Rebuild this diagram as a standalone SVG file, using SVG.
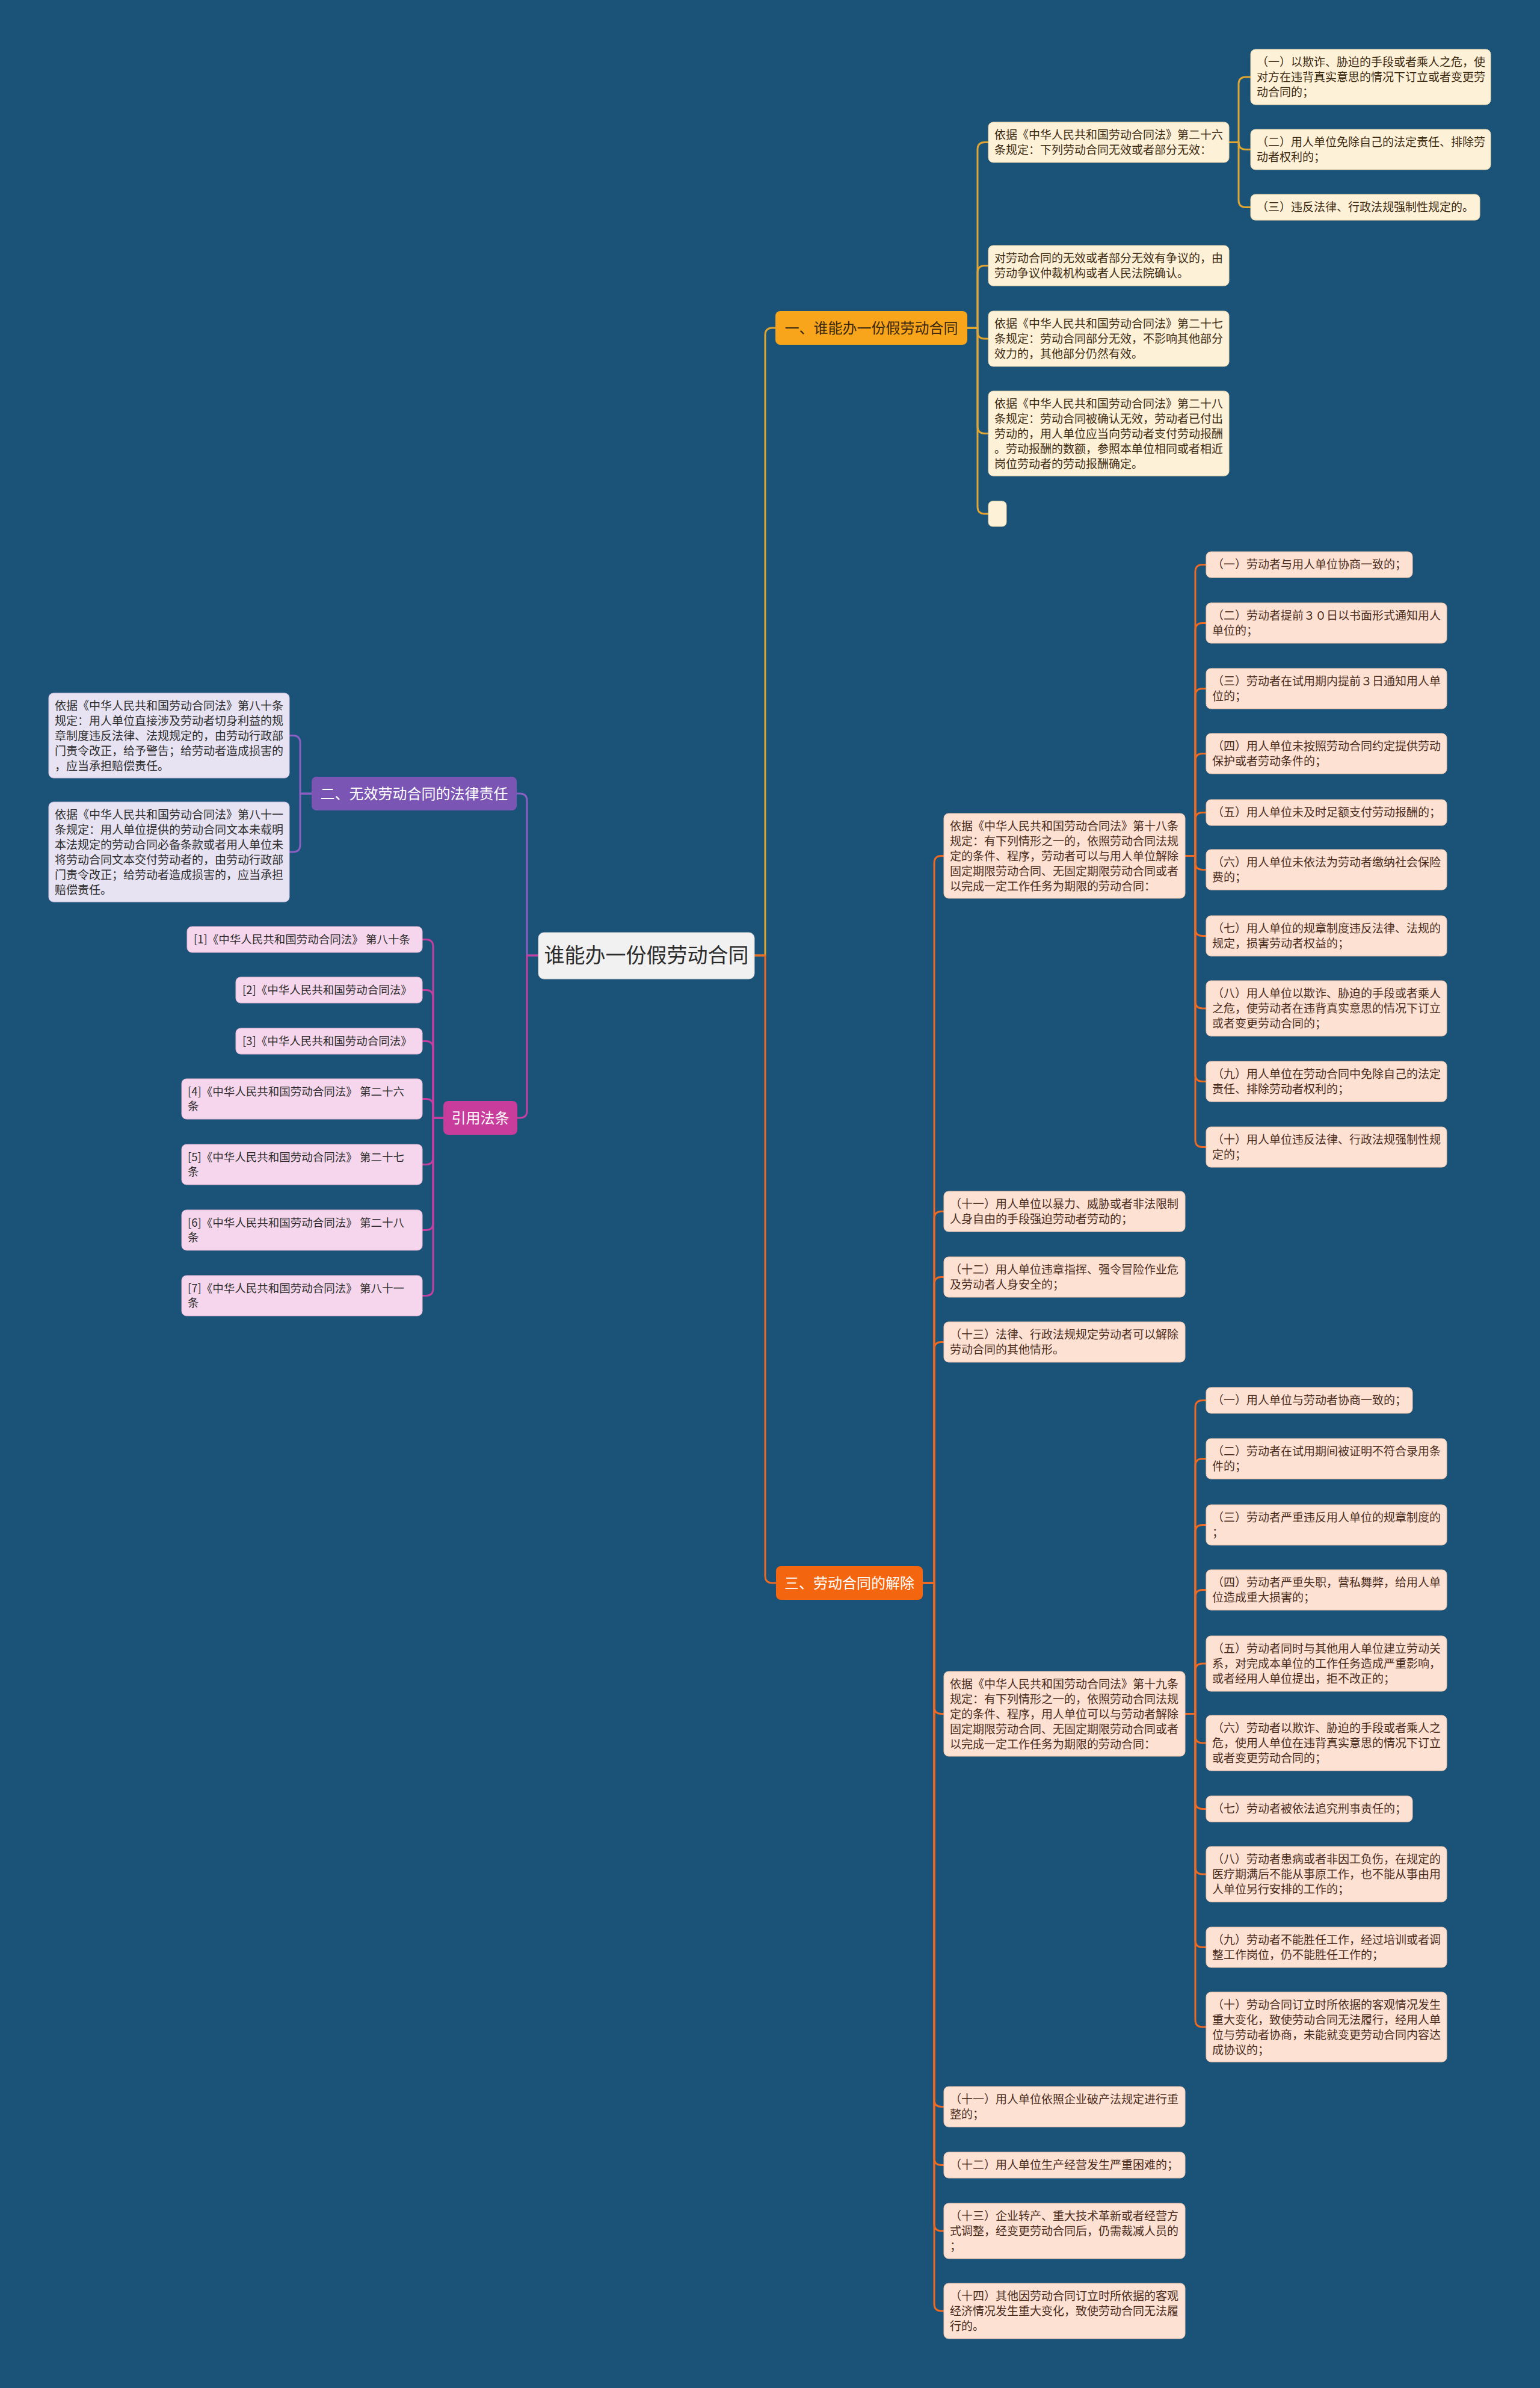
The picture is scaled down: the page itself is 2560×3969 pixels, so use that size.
<svg xmlns="http://www.w3.org/2000/svg" width="2560" height="3969" viewBox="0 0 2560 3969">
<style>
text{font-family:"Noto Sans CJK SC","Noto Sans",sans-serif}
.t{font-size:19px}
.r{font-size:18.5px;fill:#2e2e2e}
.cream rect{fill:#fdf1d8;stroke:#e6d3a8;stroke-width:1}
.cream text{fill:#3d2b12}
.peach rect{fill:#fde1d3;stroke:#eec3ad;stroke-width:1}
.peach text{fill:#4a2c1c}
.lav rect{fill:#e7e3f3;stroke:#c9c0e0;stroke-width:1}
.lav text{fill:#2e2e2e}
.pink rect{fill:#f6d6ec;stroke:#e2b5d2;stroke-width:1}
.lbl{font-size:24px}
.c{fill:none;stroke-width:3;stroke-linecap:round;stroke-linejoin:round}
.c1{stroke:#e1a530}.c2{stroke:#8c5fc4}.c3{stroke:#c53fa0}.c4{stroke:#ec6a24}
</style>
<rect width="2560" height="3969" fill="#1b5378"/>

<g id="connectors">
<path class="c c1" d="M1254 1588 H1272 V557 Q1272 545 1284 545 H1289"/>
<path class="c c4" d="M1254 1588 H1272 V2619 Q1272 2631 1284 2631 H1290"/>
<path class="c c2" d="M895 1588 H876 V1331 Q876 1319 864 1319 H859"/>
<path class="c c3" d="M895 1588 H876 V1846 Q876 1858 864 1858 H860"/>

<path class="c c1" d="M1608 545 H1625 V248.5 Q1625 236.5 1637 236.5 H1643"/>
<path class="c c1" d="M1608 545 H1625 V453.5 Q1625 441.5 1637 441.5 H1643"/>
<path class="c c1" d="M1608 545 H1625 V551 Q1625 563 1637 563 H1643"/>
<path class="c c1" d="M1608 545 H1625 V708.5 Q1625 720.5 1637 720.5 H1643"/>
<path class="c c1" d="M1608 545 H1625 V842 Q1625 854 1637 854 H1643"/>
<path class="c c1" d="M2043 236.5 H2059 V140 Q2059 128 2071 128 H2079"/>
<path class="c c1" d="M2043 236.5 H2059 V236.5 Q2059 248.5 2071 248.5 H2079"/>
<path class="c c1" d="M2043 236.5 H2059 V332.5 Q2059 344.5 2071 344.5 H2079"/>

<path class="c c2" d="M518 1319 H499 V1234.5 Q499 1222.5 487 1222.5 H481"/>
<path class="c c2" d="M518 1319 H499 V1404 Q499 1416 487 1416 H481"/>

<path class="c c3" d="M737 1858 H720 V1573.5 Q720 1561.5 708 1561.5 H702"/>
<path class="c c3" d="M737 1858 H720 V1657.5 Q720 1645.5 708 1645.5 H702"/>
<path class="c c3" d="M737 1858 H720 V1742.5 Q720 1730.5 708 1730.5 H702"/>
<path class="c c3" d="M737 1858 H720 V1838.5 Q720 1826.5 708 1826.5 H702"/>
<path class="c c3" d="M737 1858 H720 V1923.5 Q720 1935.5 708 1935.5 H702"/>
<path class="c c3" d="M737 1858 H720 V2032.5 Q720 2044.5 708 2044.5 H702"/>
<path class="c c3" d="M737 1858 H720 V2141.5 Q720 2153.5 708 2153.5 H702"/>

<path class="c c4" d="M1534 2631 H1553 V1434.5 Q1553 1422.5 1565 1422.5 H1569"/>
<path class="c c4" d="M1534 2631 H1553 V2025.5 Q1553 2013.5 1565 2013.5 H1569"/>
<path class="c c4" d="M1534 2631 H1553 V2134.5 Q1553 2122.5 1565 2122.5 H1569"/>
<path class="c c4" d="M1534 2631 H1553 V2242.5 Q1553 2230.5 1565 2230.5 H1569"/>
<path class="c c4" d="M1534 2631 H1553 V2836.5 Q1553 2848.5 1565 2848.5 H1569"/>
<path class="c c4" d="M1534 2631 H1553 V3489.5 Q1553 3501.5 1565 3501.5 H1569"/>
<path class="c c4" d="M1534 2631 H1553 V3586.5 Q1553 3598.5 1565 3598.5 H1569"/>
<path class="c c4" d="M1534 2631 H1553 V3696 Q1553 3708 1565 3708 H1569"/>
<path class="c c4" d="M1534 2631 H1553 V3829 Q1553 3841 1565 3841 H1569"/>

<path class="c c4" d="M1970 1422.5 H1987 V950.5 Q1987 938.5 1999 938.5 H2005"/>
<path class="c c4" d="M1970 1422.5 H1987 V1047.5 Q1987 1035.5 1999 1035.5 H2005"/>
<path class="c c4" d="M1970 1422.5 H1987 V1156.5 Q1987 1144.5 1999 1144.5 H2005"/>
<path class="c c4" d="M1970 1422.5 H1987 V1264.5 Q1987 1252.5 1999 1252.5 H2005"/>
<path class="c c4" d="M1970 1422.5 H1987 V1362.5 Q1987 1350.5 1999 1350.5 H2005"/>
<path class="c c4" d="M1970 1422.5 H1987 V1433.5 Q1987 1445.5 1999 1445.5 H2005"/>
<path class="c c4" d="M1970 1422.5 H1987 V1543.5 Q1987 1555.5 1999 1555.5 H2005"/>
<path class="c c4" d="M1970 1422.5 H1987 V1664 Q1987 1676 1999 1676 H2005"/>
<path class="c c4" d="M1970 1422.5 H1987 V1785.5 Q1987 1797.5 1999 1797.5 H2005"/>
<path class="c c4" d="M1970 1422.5 H1987 V1894.5 Q1987 1906.5 1999 1906.5 H2005"/>

<path class="c c4" d="M1970 2848.5 H1987 V2339.5 Q1987 2327.5 1999 2327.5 H2005"/>
<path class="c c4" d="M1970 2848.5 H1987 V2436.5 Q1987 2424.5 1999 2424.5 H2005"/>
<path class="c c4" d="M1970 2848.5 H1987 V2546.5 Q1987 2534.5 1999 2534.5 H2005"/>
<path class="c c4" d="M1970 2848.5 H1987 V2654.5 Q1987 2642.5 1999 2642.5 H2005"/>
<path class="c c4" d="M1970 2848.5 H1987 V2777 Q1987 2765 1999 2765 H2005"/>
<path class="c c4" d="M1970 2848.5 H1987 V2885 Q1987 2897 1999 2897 H2005"/>
<path class="c c4" d="M1970 2848.5 H1987 V2994.5 Q1987 3006.5 1999 3006.5 H2005"/>
<path class="c c4" d="M1970 2848.5 H1987 V3103 Q1987 3115 1999 3115 H2005"/>
<path class="c c4" d="M1970 2848.5 H1987 V3224.5 Q1987 3236.5 1999 3236.5 H2005"/>
<path class="c c4" d="M1970 2848.5 H1987 V3357 Q1987 3369 1999 3369 H2005"/>
</g>

<g id="root">
<rect x="895" y="1550" width="359" height="77" rx="9" fill="#f1f1f1" stroke="#d6d6d6"/>
<text x="1074.5" y="1600" font-size="34" fill="#2b2b2b" text-anchor="middle">谁能办一份假劳动合同</text>
</g>

<g id="b1">
<rect x="1289" y="517" width="319" height="56" rx="8" fill="#f9a51b"/>
<text class="lbl" x="1448.5" y="554" fill="#3a2810" text-anchor="middle">一、谁能办一份假劳动合同</text>
</g>
<g id="b1-a" class="cream">
<rect x="1643" y="203" width="400" height="67" rx="8"/>
<text class="t"><tspan x="1653" y="231">依据《中华人民共和国劳动合同法》第二十六</tspan><tspan x="1653" y="256">条规定：下列劳动合同无效或者部分无效：</tspan></text>
</g>
<g id="b1-a1" class="cream">
<rect x="2079" y="82" width="399" height="92" rx="8"/>
<text class="t"><tspan x="2089" y="110">（一）以欺诈、胁迫的手段或者乘人之危，使</tspan><tspan x="2089" y="135">对方在违背真实意思的情况下订立或者变更劳</tspan><tspan x="2089" y="160">动合同的；</tspan></text>
</g>
<g id="b1-a2" class="cream">
<rect x="2079" y="215" width="399" height="67" rx="8"/>
<text class="t"><tspan x="2089" y="243">（二）用人单位免除自己的法定责任、排除劳</tspan><tspan x="2089" y="268">动者权利的；</tspan></text>
</g>
<g id="b1-a3" class="cream">
<rect x="2079" y="323" width="381" height="43" rx="8"/>
<text class="t"><tspan x="2089" y="351">（三）违反法律、行政法规强制性规定的。</tspan></text>
</g>
<g id="b1-b" class="cream">
<rect x="1643" y="408" width="400" height="67" rx="8"/>
<text class="t"><tspan x="1653" y="436">对劳动合同的无效或者部分无效有争议的，由</tspan><tspan x="1653" y="461">劳动争议仲裁机构或者人民法院确认。</tspan></text>
</g>
<g id="b1-c" class="cream">
<rect x="1643" y="517" width="400" height="92" rx="8"/>
<text class="t"><tspan x="1653" y="545">依据《中华人民共和国劳动合同法》第二十七</tspan><tspan x="1653" y="570">条规定：劳动合同部分无效，不影响其他部分</tspan><tspan x="1653" y="595">效力的，其他部分仍然有效。</tspan></text>
</g>
<g id="b1-d" class="cream">
<rect x="1643" y="650" width="400" height="141" rx="8"/>
<text class="t"><tspan x="1653" y="678">依据《中华人民共和国劳动合同法》第二十八</tspan><tspan x="1653" y="703">条规定：劳动合同被确认无效，劳动者已付出</tspan><tspan x="1653" y="728">劳动的，用人单位应当向劳动者支付劳动报酬</tspan><tspan x="1653" y="753">。劳动报酬的数额，参照本单位相同或者相近</tspan><tspan x="1653" y="778">岗位劳动者的劳动报酬确定。</tspan></text>
</g>
<g id="b1-e" class="cream">
<rect x="1643" y="833" width="30" height="42" rx="7"/>
</g>

<g id="b2">
<rect x="518" y="1291" width="341" height="56" rx="8" fill="#7b55b3"/>
<text class="lbl" x="688.5" y="1328" fill="#ffffff" text-anchor="middle">二、无效劳动合同的法律责任</text>
</g>
<g id="b2-a" class="lav">
<rect x="81" y="1152" width="400" height="141" rx="8"/>
<text class="t"><tspan x="91" y="1180">依据《中华人民共和国劳动合同法》第八十条</tspan><tspan x="91" y="1205">规定：用人单位直接涉及劳动者切身利益的规</tspan><tspan x="91" y="1230">章制度违反法律、法规规定的，由劳动行政部</tspan><tspan x="91" y="1255">门责令改正，给予警告；给劳动者造成损害的</tspan><tspan x="91" y="1280">，应当承担赔偿责任。</tspan></text>
</g>
<g id="b2-b" class="lav">
<rect x="81" y="1333" width="400" height="166" rx="8"/>
<text class="t"><tspan x="91" y="1361">依据《中华人民共和国劳动合同法》第八十一</tspan><tspan x="91" y="1386">条规定：用人单位提供的劳动合同文本未载明</tspan><tspan x="91" y="1411">本法规定的劳动合同必备条款或者用人单位未</tspan><tspan x="91" y="1436">将劳动合同文本交付劳动者的，由劳动行政部</tspan><tspan x="91" y="1461">门责令改正；给劳动者造成损害的，应当承担</tspan><tspan x="91" y="1486">赔偿责任。</tspan></text>
</g>

<g id="refs">
<rect x="737" y="1830" width="123" height="56" rx="8" fill="#c83c9c"/>
<text class="lbl" x="798.5" y="1867" fill="#ffffff" text-anchor="middle">引用法条</text>
</g>
<g id="ref1" class="pink">
<rect x="311" y="1540" width="391" height="43" rx="8"/>
<text class="r" x="322" y="1568">[1]《中华人民共和国劳动合同法》 第八十条</text>
</g>
<g id="ref2" class="pink">
<rect x="392" y="1624" width="310" height="43" rx="8"/>
<text class="r" x="403" y="1652">[2]《中华人民共和国劳动合同法》</text>
</g>
<g id="ref3" class="pink">
<rect x="392" y="1709" width="310" height="43" rx="8"/>
<text class="r" x="403" y="1737">[3]《中华人民共和国劳动合同法》</text>
</g>
<g id="ref4" class="pink">
<rect x="302" y="1793" width="400" height="67" rx="8"/>
<text class="r"><tspan x="312" y="1821">[4]《中华人民共和国劳动合同法》 第二十六</tspan><tspan x="312" y="1845">条</tspan></text>
</g>
<g id="ref5" class="pink">
<rect x="302" y="1902" width="400" height="67" rx="8"/>
<text class="r"><tspan x="312" y="1930">[5]《中华人民共和国劳动合同法》 第二十七</tspan><tspan x="312" y="1954">条</tspan></text>
</g>
<g id="ref6" class="pink">
<rect x="302" y="2011" width="400" height="67" rx="8"/>
<text class="r"><tspan x="312" y="2039">[6]《中华人民共和国劳动合同法》 第二十八</tspan><tspan x="312" y="2063">条</tspan></text>
</g>
<g id="ref7" class="pink">
<rect x="302" y="2120" width="400" height="67" rx="8"/>
<text class="r"><tspan x="312" y="2148">[7]《中华人民共和国劳动合同法》 第八十一</tspan><tspan x="312" y="2172">条</tspan></text>
</g>

<g id="b3">
<rect x="1290" y="2603" width="244" height="56" rx="8" fill="#f4650f"/>
<text class="lbl" x="1412" y="2640" fill="#ffffff" text-anchor="middle">三、劳动合同的解除</text>
</g>
<g id="b3-18" class="peach">
<rect x="1569" y="1352" width="401" height="141" rx="8"/>
<text class="t"><tspan x="1579" y="1380">依据《中华人民共和国劳动合同法》第十八条</tspan><tspan x="1579" y="1405">规定：有下列情形之一的，依照劳动合同法规</tspan><tspan x="1579" y="1430">定的条件、程序，劳动者可以与用人单位解除</tspan><tspan x="1579" y="1455">固定期限劳动合同、无固定期限劳动合同或者</tspan><tspan x="1579" y="1480">以完成一定工作任务为期限的劳动合同：</tspan></text>
</g>
<g id="b3-18-1" class="peach">
<rect x="2005" y="917" width="343" height="43" rx="8"/>
<text class="t"><tspan x="2015" y="945">（一）劳动者与用人单位协商一致的；</tspan></text>
</g>
<g id="b3-18-2" class="peach">
<rect x="2005" y="1002" width="400" height="67" rx="8"/>
<text class="t"><tspan x="2015" y="1030">（二）劳动者提前３０日以书面形式通知用人</tspan><tspan x="2015" y="1055">单位的；</tspan></text>
</g>
<g id="b3-18-3" class="peach">
<rect x="2005" y="1111" width="400" height="67" rx="8"/>
<text class="t"><tspan x="2015" y="1139">（三）劳动者在试用期内提前３日通知用人单</tspan><tspan x="2015" y="1164">位的；</tspan></text>
</g>
<g id="b3-18-4" class="peach">
<rect x="2005" y="1219" width="400" height="67" rx="8"/>
<text class="t"><tspan x="2015" y="1247">（四）用人单位未按照劳动合同约定提供劳动</tspan><tspan x="2015" y="1272">保护或者劳动条件的；</tspan></text>
</g>
<g id="b3-18-5" class="peach">
<rect x="2005" y="1329" width="400" height="43" rx="8"/>
<text class="t"><tspan x="2015" y="1357">（五）用人单位未及时足额支付劳动报酬的；</tspan></text>
</g>
<g id="b3-18-6" class="peach">
<rect x="2005" y="1412" width="400" height="67" rx="8"/>
<text class="t"><tspan x="2015" y="1440">（六）用人单位未依法为劳动者缴纳社会保险</tspan><tspan x="2015" y="1465">费的；</tspan></text>
</g>
<g id="b3-18-7" class="peach">
<rect x="2005" y="1522" width="400" height="67" rx="8"/>
<text class="t"><tspan x="2015" y="1550">（七）用人单位的规章制度违反法律、法规的</tspan><tspan x="2015" y="1575">规定，损害劳动者权益的；</tspan></text>
</g>
<g id="b3-18-8" class="peach">
<rect x="2005" y="1630" width="400" height="92" rx="8"/>
<text class="t"><tspan x="2015" y="1658">（八）用人单位以欺诈、胁迫的手段或者乘人</tspan><tspan x="2015" y="1683">之危，使劳动者在违背真实意思的情况下订立</tspan><tspan x="2015" y="1708">或者变更劳动合同的；</tspan></text>
</g>
<g id="b3-18-9" class="peach">
<rect x="2005" y="1764" width="400" height="67" rx="8"/>
<text class="t"><tspan x="2015" y="1792">（九）用人单位在劳动合同中免除自己的法定</tspan><tspan x="2015" y="1817">责任、排除劳动者权利的；</tspan></text>
</g>
<g id="b3-18-10" class="peach">
<rect x="2005" y="1873" width="400" height="67" rx="8"/>
<text class="t"><tspan x="2015" y="1901">（十）用人单位违反法律、行政法规强制性规</tspan><tspan x="2015" y="1926">定的；</tspan></text>
</g>
<g id="b3-11a" class="peach">
<rect x="1569" y="1980" width="401" height="67" rx="8"/>
<text class="t"><tspan x="1579" y="2008">（十一）用人单位以暴力、威胁或者非法限制</tspan><tspan x="1579" y="2033">人身自由的手段强迫劳动者劳动的；</tspan></text>
</g>
<g id="b3-12a" class="peach">
<rect x="1569" y="2089" width="401" height="67" rx="8"/>
<text class="t"><tspan x="1579" y="2117">（十二）用人单位违章指挥、强令冒险作业危</tspan><tspan x="1579" y="2142">及劳动者人身安全的；</tspan></text>
</g>
<g id="b3-13a" class="peach">
<rect x="1569" y="2197" width="401" height="67" rx="8"/>
<text class="t"><tspan x="1579" y="2225">（十三）法律、行政法规规定劳动者可以解除</tspan><tspan x="1579" y="2250">劳动合同的其他情形。</tspan></text>
</g>

<g id="b3-19" class="peach">
<rect x="1569" y="2778" width="401" height="141" rx="8"/>
<text class="t"><tspan x="1579" y="2806">依据《中华人民共和国劳动合同法》第十九条</tspan><tspan x="1579" y="2831">规定：有下列情形之一的，依照劳动合同法规</tspan><tspan x="1579" y="2856">定的条件、程序，用人单位可以与劳动者解除</tspan><tspan x="1579" y="2881">固定期限劳动合同、无固定期限劳动合同或者</tspan><tspan x="1579" y="2906">以完成一定工作任务为期限的劳动合同：</tspan></text>
</g>
<g id="b3-19-1" class="peach">
<rect x="2005" y="2306" width="343" height="43" rx="8"/>
<text class="t"><tspan x="2015" y="2334">（一）用人单位与劳动者协商一致的；</tspan></text>
</g>
<g id="b3-19-2" class="peach">
<rect x="2005" y="2391" width="400" height="67" rx="8"/>
<text class="t"><tspan x="2015" y="2419">（二）劳动者在试用期间被证明不符合录用条</tspan><tspan x="2015" y="2444">件的；</tspan></text>
</g>
<g id="b3-19-3" class="peach">
<rect x="2005" y="2501" width="400" height="67" rx="8"/>
<text class="t"><tspan x="2015" y="2529">（三）劳动者严重违反用人单位的规章制度的</tspan><tspan x="2015" y="2554">；</tspan></text>
</g>
<g id="b3-19-4" class="peach">
<rect x="2005" y="2609" width="400" height="67" rx="8"/>
<text class="t"><tspan x="2015" y="2637">（四）劳动者严重失职，营私舞弊，给用人单</tspan><tspan x="2015" y="2662">位造成重大损害的；</tspan></text>
</g>
<g id="b3-19-5" class="peach">
<rect x="2005" y="2719" width="400" height="92" rx="8"/>
<text class="t"><tspan x="2015" y="2747">（五）劳动者同时与其他用人单位建立劳动关</tspan><tspan x="2015" y="2772">系，对完成本单位的工作任务造成严重影响，</tspan><tspan x="2015" y="2797">或者经用人单位提出，拒不改正的；</tspan></text>
</g>
<g id="b3-19-6" class="peach">
<rect x="2005" y="2851" width="400" height="92" rx="8"/>
<text class="t"><tspan x="2015" y="2879">（六）劳动者以欺诈、胁迫的手段或者乘人之</tspan><tspan x="2015" y="2904">危，使用人单位在违背真实意思的情况下订立</tspan><tspan x="2015" y="2929">或者变更劳动合同的；</tspan></text>
</g>
<g id="b3-19-7" class="peach">
<rect x="2005" y="2985" width="343" height="43" rx="8"/>
<text class="t"><tspan x="2015" y="3013">（七）劳动者被依法追究刑事责任的；</tspan></text>
</g>
<g id="b3-19-8" class="peach">
<rect x="2005" y="3069" width="400" height="92" rx="8"/>
<text class="t"><tspan x="2015" y="3097">（八）劳动者患病或者非因工负伤，在规定的</tspan><tspan x="2015" y="3122">医疗期满后不能从事原工作，也不能从事由用</tspan><tspan x="2015" y="3147">人单位另行安排的工作的；</tspan></text>
</g>
<g id="b3-19-9" class="peach">
<rect x="2005" y="3203" width="400" height="67" rx="8"/>
<text class="t"><tspan x="2015" y="3231">（九）劳动者不能胜任工作，经过培训或者调</tspan><tspan x="2015" y="3256">整工作岗位，仍不能胜任工作的；</tspan></text>
</g>
<g id="b3-19-10" class="peach">
<rect x="2005" y="3311" width="400" height="116" rx="8"/>
<text class="t"><tspan x="2015" y="3339">（十）劳动合同订立时所依据的客观情况发生</tspan><tspan x="2015" y="3364">重大变化，致使劳动合同无法履行，经用人单</tspan><tspan x="2015" y="3389">位与劳动者协商，未能就变更劳动合同内容达</tspan><tspan x="2015" y="3414">成协议的；</tspan></text>
</g>
<g id="b3-11b" class="peach">
<rect x="1569" y="3468" width="401" height="67" rx="8"/>
<text class="t"><tspan x="1579" y="3496">（十一）用人单位依照企业破产法规定进行重</tspan><tspan x="1579" y="3521">整的；</tspan></text>
</g>
<g id="b3-12b" class="peach">
<rect x="1569" y="3577" width="401" height="43" rx="8"/>
<text class="t"><tspan x="1579" y="3605">（十二）用人单位生产经营发生严重困难的；</tspan></text>
</g>
<g id="b3-13b" class="peach">
<rect x="1569" y="3662" width="401" height="92" rx="8"/>
<text class="t"><tspan x="1579" y="3690">（十三）企业转产、重大技术革新或者经营方</tspan><tspan x="1579" y="3715">式调整，经变更劳动合同后，仍需裁减人员的</tspan><tspan x="1579" y="3740">；</tspan></text>
</g>
<g id="b3-14b" class="peach">
<rect x="1569" y="3795" width="401" height="92" rx="8"/>
<text class="t"><tspan x="1579" y="3823">（十四）其他因劳动合同订立时所依据的客观</tspan><tspan x="1579" y="3848">经济情况发生重大变化，致使劳动合同无法履</tspan><tspan x="1579" y="3873">行的。</tspan></text>
</g>
</svg>
